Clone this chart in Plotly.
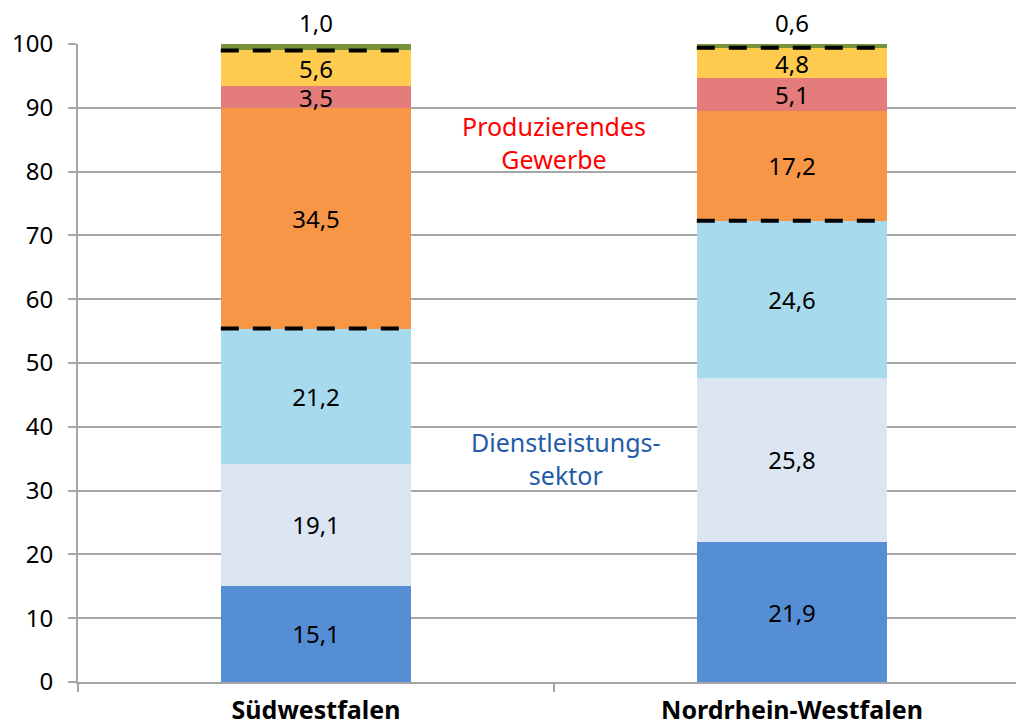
import plotly.graph_objects as go
import numpy as np

categories = ["Südwestfalen", "Nordrhein-Westfalen"]
seg_blue = [15.1, 21.9]
seg_pale = [19.1, 25.8]
seg_light = [21.2, 24.6]
seg_orange = [34.5, 17.2]
seg_pink = [3.5, 5.1]
seg_yellow = [5.6, 4.8]
seg_green = [1.0, 0.6]

series = [seg_blue, seg_pale, seg_light, seg_orange, seg_pink, seg_yellow, seg_green]
colors = ["#558ED5", "#DCE6F2", "#A8DAEE", "#F79646", "#E47C7C", "#FECB4E", "#77933C"]

FONT = "Noto Sans"
BAR_W = 0.4

fig = go.Figure()
for i, (vals, col) in enumerate(zip(series, colors)):
    is_top = i == len(series) - 1
    fig.add_trace(go.Bar(
        x=categories, y=vals, width=BAR_W,
        marker=dict(color=col, line=dict(width=0)),
        texttemplate="" if is_top else "%{y:.1f}",
        textposition="inside", insidetextanchor="middle",
        textfont=dict(family=FONT, size=24, color="black"),
        showlegend=False, hoverinfo="skip",
    ))

# dashed boundaries between sectors
cum = np.cumsum(np.array(series), axis=0)
for ci in range(len(categories)):
    for lvl in (cum[2][ci], cum[5][ci]):
        fig.add_shape(type="line", xref="x", yref="y",
                      x0=ci - BAR_W / 2, x1=ci + BAR_W / 2, y0=lvl, y1=lvl,
                      line=dict(color="black", width=4, dash="18px,14px"))
    fig.add_annotation(x=ci, y=cum[-1][ci], xref="x", yref="y",
                       text=f"{seg_green[ci]:.1f}".replace(".", ","),
                       showarrow=False, yanchor="bottom", yshift=3,
                       font=dict(family=FONT, size=24, color="black"))

fig.add_annotation(x=0.5, y=84.5, xref="x", yref="y",
                   text="Produzierendes<br>Gewerbe", showarrow=False,
                   font=dict(family=FONT, size=25, color="#FF0000"))
fig.add_annotation(x=0.525, y=35.1, xref="x", yref="y",
                   text="Dienstleistungs-<br>sektor", showarrow=False,
                   font=dict(family=FONT, size=25, color="#1F5BA8"))

fig.update_layout(
    width=1016, height=728,
    margin=dict(l=78, r=0, t=44, b=46),
    barmode="stack",
    plot_bgcolor="white", paper_bgcolor="white",
    separators=",.",
    uniformtext=dict(mode="show", minsize=24),
    font=dict(family=FONT, color="black"),
)
fig.update_xaxes(
    type="category", range=[-0.5, 1.4706], automargin=False,
    showline=True, linecolor="#A6A6A6", linewidth=2,
    ticks="outside", tickson="boundaries", ticklen=8, tickcolor="#A6A6A6", tickwidth=2,
    ticklabelstandoff=5,
    tickfont=dict(family=FONT, size=25, color="black", weight="bold"),
    showgrid=False,
)
fig.update_yaxes(
    range=[0, 100], dtick=10, automargin=False,
    showline=True, linecolor="#A6A6A6", linewidth=2,
    showgrid=True, gridcolor="#A6A6A6", gridwidth=2,
    ticks="outside", ticklen=8, tickcolor="#A6A6A6", tickwidth=2,
    ticklabelstandoff=10,
    tickfont=dict(family=FONT, size=24, color="black"),
    zeroline=False,
)

fig.write_html("out.html", config={"displayModeBar": False},
               post_script="document.body.style.margin='0';document.body.style.overflow='hidden';")
